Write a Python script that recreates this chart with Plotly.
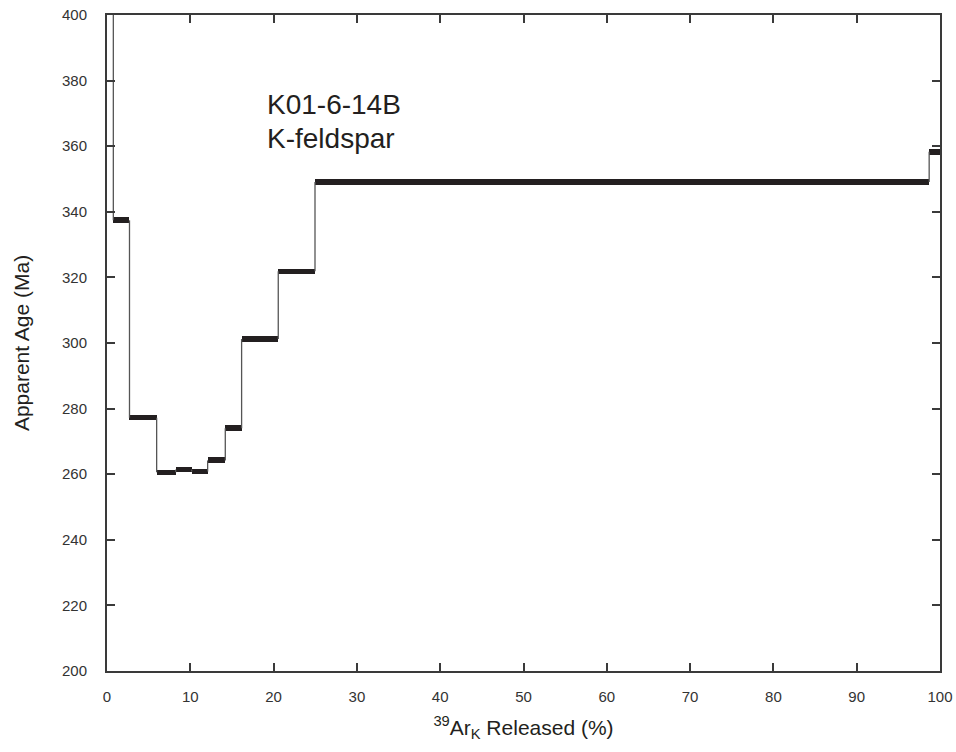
import plotly.graph_objects as go

# Step-heating age spectrum, K-feldspar K01-6-14B
cum_released = [0.0, 0.76, 2.70, 5.96, 8.24, 10.16, 12.08, 14.20, 16.16, 20.56, 24.97, 98.70, 100.0]
apparent_age = [470.0, 337.4, 277.2, 260.6, 261.4, 260.8, 264.2, 274.0, 301.2, 321.9, 349.1, 358.3]
age_err = [1.0, 0.9, 0.8, 0.8, 0.8, 0.8, 0.9, 0.9, 0.9, 0.8, 0.8, 1.0]

x_ticks = [0, 10, 20, 30, 40, 50, 60, 70, 80, 90, 100]
y_ticks = [200, 220, 240, 260, 280, 300, 320, 340, 360, 380, 400]

INK = "#231f20"
AXIS = "#3a3a3a"
FONT = "Liberation Sans, Arial, Helvetica, sans-serif"

left = cum_released[:-1]
right = cum_released[1:]
mid = [(a + b) / 2 for a, b in zip(left, right)]
widths = [b - a for a, b in zip(left, right)]

# vertical connectors between successive steps (drawn at each step boundary)
conn_x, conn_y = [], []
for i in range(1, len(apparent_age)):
    xb = cum_released[i]
    conn_x += [xb, xb, None]
    conn_y += [apparent_age[i - 1], apparent_age[i], None]

fig = go.Figure()

fig.add_trace(go.Scatter(
    x=conn_x, y=conn_y,
    mode="lines",
    line=dict(color="#555555", width=1.3),
    hoverinfo="skip",
    showlegend=False,
))

# error boxes (age +/- 1 sigma) for each step
fig.add_trace(go.Bar(
    x=mid,
    y=[2 * e for e in age_err],
    base=[a - e for a, e in zip(apparent_age, age_err)],
    width=widths,
    marker=dict(color=INK, line=dict(width=0)),
    showlegend=False,
))

fig.add_annotation(
    text="K01-6-14B", xref="paper", yref="paper",
    x=0.19, y=1 - (104 - 15) / 656, xanchor="left", yanchor="middle",
    showarrow=False, font=dict(family=FONT, size=28, color=INK),
)
fig.add_annotation(
    text="K-feldspar", xref="paper", yref="paper",
    x=0.19, y=1 - (139 - 15) / 656, xanchor="left", yanchor="middle",
    showarrow=False, font=dict(family=FONT, size=28, color=INK),
)

axis_common = dict(
    showgrid=False, zeroline=False, automargin=False,
    showline=True, linecolor=AXIS, linewidth=2,
    mirror="allticks", ticks="inside", ticklen=8, tickwidth=1.5, tickcolor=AXIS,
    tickfont=dict(family=FONT, size=15, color="#333333"),
)

fig.update_xaxes(
    range=[0, 100], tickvals=x_ticks, ticktext=[str(v) for v in x_ticks],
    ticklabelstandoff=11,
    title=dict(text="<sup>39</sup>Ar<sub>K</sub> Released (%)",
               font=dict(family=FONT, size=21, color=INK), standoff=16),
    **axis_common,
)
fig.update_yaxes(
    range=[200, 400], tickvals=y_ticks, ticktext=[str(v) for v in y_ticks],
    ticklabelstandoff=15,
    title=dict(text="Apparent Age (Ma)",
               font=dict(family=FONT, size=21, color=INK), standoff=27),
    **axis_common,
)

fig.update_layout(
    width=956, height=752,
    margin=dict(l=107, r=16, t=15, b=81),
    paper_bgcolor="white", plot_bgcolor="white",
    bargap=0,
    font=dict(family=FONT, color=INK),
)

fig.write_html("out.html")
